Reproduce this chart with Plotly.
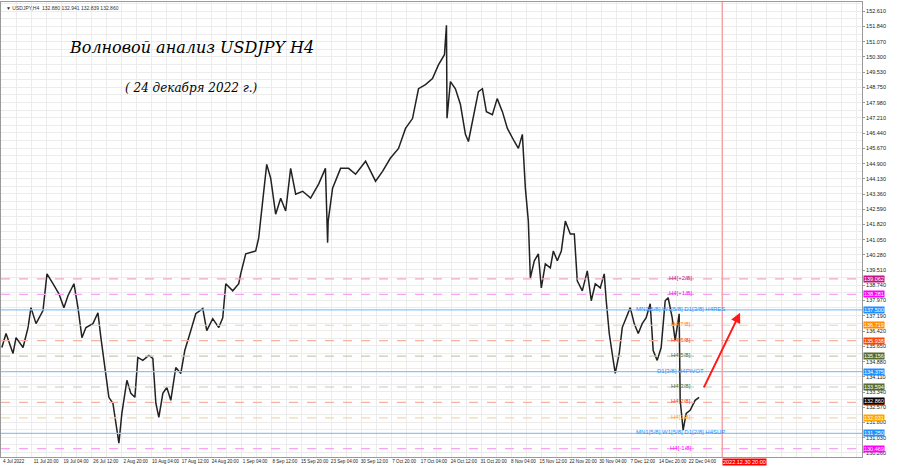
import plotly.graph_objects as go

# trading-day index (0 = 4 Jul 2022) and price path
days = [0,0.75,2.0,2.54,3.79,4.68,5.21,6.11,7.36,8.07,9.14,10.21,11.1,11.82,12.89,13.61,14.32,15.04,16.29,17.18,
        17.71,18.43,19.14,19.86,20.57,20.93,21.46,22.36,23.07,23.79,24.32,25.21,26.29,27.0,27.54,28.07,28.79,29.5,30.21,31.1,
        32.0,32.71,33.79,34.68,35.93,36.64,37.71,38.79,39.5,40.04,41.29,42.36,42.71,43.61,45.39,45.93,46.64,47.36,48.07,48.96,
        49.86,50.75,51.64,52.54,53.79,55.21,56.64,57.86,58.25,58.35,59.14,60.57,62.0,63.25,65.04,66.82,68.07,69.46,70.93,72.18,
        73.43,74.5,75.75,77.0,78.07,79.14,79.5,79.6,80.21,81.1,82.0,82.89,83.43,84.14,85.21,85.93,86.64,87.71,88.57,89.5,
        90.39,91.64,92.36,93.07,93.61,94.14,94.5,95.21,95.93,96.46,97.18,98.07,98.61,99.32,100.04,100.75,101.64,102.36,102.89,103.79,
        104.68,105.39,106.11,107.0,107.71,108.07,108.61,109.32,109.68,110.39,110.93,111.64,112.36,113.07,113.79,114.5,115.21,115.93,116.46,117.18,
        117.89,118.61,119.14,119.86,120.39,121.11,121.29,121.82,122.36,123.07,123.96,124.68]
prices = [135.59,136.30,135.29,136.09,135.59,136.60,137.61,136.80,137.46,139.32,138.82,138.31,137.61,138.21,138.82,137.61,136.09,136.60,136.80,137.35,
          136.09,134.58,133.07,132.77,131.56,130.75,132.26,133.93,133.27,133.07,135.09,134.94,135.19,135.04,132.77,132.06,133.27,133.57,132.92,134.58,
          134.28,135.44,136.45,137.30,137.56,136.45,137.05,136.60,137.10,138.82,138.46,138.82,139.32,140.33,140.48,141.14,143.00,144.86,144.16,142.34,
          143.15,142.50,144.66,143.35,143.50,143.15,143.86,144.66,140.90,141.99,143.66,144.66,144.66,144.36,145.02,144.01,144.51,145.17,145.67,146.68,
          147.18,148.69,148.90,149.20,149.90,150.41,151.90,147.20,149.05,148.69,147.89,146.38,146.02,147.03,148.54,148.69,147.53,147.38,148.19,147.53,
          146.68,146.02,145.67,146.38,143.66,141.99,139.12,139.98,140.33,138.61,139.82,139.62,140.48,139.98,140.48,141.99,141.34,141.34,138.97,138.46,
          139.47,137.96,138.82,138.61,139.32,137.96,136.30,134.94,134.28,135.29,136.60,137.10,137.61,136.80,136.30,136.80,137.10,137.81,135.44,134.94,
          135.59,137.96,138.11,137.10,135.94,137.30,132.92,131.41,132.26,132.41,132.92,133.07]

tick_days = [0,5.83,11.17,16.5,21.83,27.17,32.5,37.83,43.17,48.5,53.83,59.17,64.5,69.83,75.17,80.5,85.83,91.17,96.5,101.83,107.17,112.5,117.83,123.17]
tick_text = ["4 Jul 2022","11 Jul 20:00","19 Jul 04:00","26 Jul 12:00","2 Aug 20:00","10 Aug 04:00","17 Aug 12:00","24 Aug 20:00",
             "1 Sep 04:00","8 Sep 12:00","15 Sep 20:00","23 Sep 04:00","30 Sep 12:00","7 Oct 20:00","17 Oct 04:00","24 Oct 12:00",
             "31 Oct 20:00","8 Nov 04:00","15 Nov 12:00","22 Nov 20:00","30 Nov 04:00","7 Dec 12:00","14 Dec 20:00","22 Dec 04:00"]
future_day = 128.83
future_text = "2022.12.30 20:00"

price_ticks = [152.610,151.840,151.070,150.300,149.530,148.750,147.980,147.210,146.440,145.670,144.900,144.130,143.360,142.590,
               141.820,141.050,140.280,139.510,138.740,137.970,137.190,136.420,135.650,134.880,134.110,133.340,132.570,131.800,131.030,130.260]

levels = [139.062,138.281,137.500,136.719,135.938,135.156,134.375,133.594,132.813,132.031,131.250,130.469]
level_names = ["H4[+2/8]","H4[+1/8]","MN1[5/8] W1[5/8] D1[3/8] H4RES","H4[7/8]","H4[6/8]","H4[5/8]","D1[3/8] H4PIVOT",
               "H4[3/8]","H4[2/8]","H4[1/8]","MN1[5/8] W1[5/8] D1[2/8] H4SUP","H4[-1/8]"]
level_colors = ["#c71585","#ff00ff","#1e90ff","#ff8c00","#ff4500","#556b2f","#1e90ff","#556b2f","#ff4500","#ffa500","#1e90ff","#ff00ff"]
line_colors = ["#f5a3c8","#f7a3f7","#8cc6f5","#f8cfa3","#f6b39e","#c9cbb5","#8cc6f5","#c9cbb5","#f6b39e","#f8d8a3","#8cc6f5","#f7a3f7"]
level_solid = [False,False,True,False,False,False,True,False,False,False,True,False]

last_price = 132.860
arrow_from = (125.4, 133.5)
arrow_to = (132.0, 137.35)

XR = [-0.15, 153.8]
YR = [130.05, 153.08]
FS = 5.5
FONT = "Liberation Sans"

fig = go.Figure()
fig.add_trace(go.Scatter(x=days, y=prices, mode="lines", line=dict(color="#222", width=1.5),
                         hoverinfo="skip", showlegend=False))
fig.add_trace(go.Scatter(x=[0], y=[YR[0]-5], xaxis="x2", yaxis="y2", mode="markers",
                         marker=dict(opacity=0), showlegend=False, hoverinfo="skip"))

shapes = []
for lv, c, solid in zip(levels, line_colors, level_solid):
    shapes.append(dict(type="line", xref="paper", x0=0, x1=1, yref="y", y0=lv, y1=lv,
                       line=dict(color=c, width=1.2, dash="solid" if solid else "dash")))
shapes.append(dict(type="line", xref="x", x0=future_day, x1=future_day, yref="paper", y0=0, y1=1,
                   line=dict(color="#f4a0a0", width=1.2)))
fig.update_layout(shapes=shapes)

ann = []
for lv, nm, c in zip(levels, level_names, level_colors):
    ann.append(dict(x=121.4, y=lv, xref="x", yref="y", text=nm, showarrow=False, yshift=1,
                    font=dict(size=6, color=c, family=FONT)))
    ann.append(dict(x=1.0, y=lv, xref="paper", yref="y", text=f"{lv:.3f}", showarrow=False, xanchor="left", xshift=1,
                    bgcolor=c, font=dict(size=FS, color="white", family=FONT), borderpad=0))
ann.append(dict(x=1.0, y=last_price, xref="paper", yref="y", text=f"{last_price:.3f}", showarrow=False, xanchor="left", xshift=1,
                bgcolor="black", font=dict(size=FS, color="white", family=FONT), borderpad=0))
ann.append(dict(x=future_day, y=0, xref="x", yref="paper", yanchor="top", xanchor="left", yshift=-1, text=future_text,
                showarrow=False, bgcolor="#ff0000", font=dict(size=FS, color="white", family=FONT), borderpad=0))
ann.append(dict(x=arrow_to[0], y=arrow_to[1], ax=arrow_from[0], ay=arrow_from[1], xref="x", yref="y", axref="x", ayref="y",
                showarrow=True, arrowhead=2, arrowsize=1, arrowwidth=2, arrowcolor="#ff1a1a", text=""))
ann.append(dict(x=0.221, y=0.925, xref="paper", yref="paper", xanchor="center", text="<i>Волновой анализ USDJPY H4</i>",
                showarrow=False, font=dict(size=16, color="black", family="DejaVu Serif")))
ann.append(dict(x=0.221, y=0.83, xref="paper", yref="paper", xanchor="center", text="<i>( 24 декабря 2022 г.)</i>",
                showarrow=False, font=dict(size=12, color="black", family="DejaVu Serif")))
ann.append(dict(x=0.003, y=0.998, xref="paper", yref="paper", xanchor="left", yanchor="top",
                text="▼ USDJPY,H4  132.880 132.941 132.839 132.860", showarrow=False,
                font=dict(size=5, color="#333", family=FONT)))
fig.update_layout(annotations=ann)

fig.update_layout(
    width=900, height=468, margin=dict(l=1, r=38, t=2, b=11, autoexpand=False),
    plot_bgcolor="white", paper_bgcolor="white",
    xaxis=dict(range=XR, tickmode="linear", tick0=0, dtick=2.68, showticklabels=False, showgrid=True, automargin=False,
               gridcolor="#ececec", gridwidth=1, zeroline=False, showline=True, linecolor="#999", mirror=True, ticks=""),
    xaxis2=dict(overlaying="x", matches="x", range=XR, tickmode="array", tickvals=[t + 2.1 for t in tick_days],
                ticktext=tick_text, side="bottom", showgrid=False, zeroline=False, ticks="", tickangle=0, automargin=False,
                ticklabelstandoff=0, tickfont=dict(size=4.6, color="#222", family=FONT)),
    yaxis=dict(range=YR, tickmode="linear", tick0=152.61, dtick=0.385, showticklabels=False, showgrid=True, automargin=False,
               gridcolor="#ececec", zeroline=False, showline=True, linecolor="#999", mirror=True, ticks=""),
    yaxis2=dict(overlaying="y", matches="y", range=YR, side="right", tickmode="array", tickvals=price_ticks, automargin=False,
                ticktext=[f"{p:.3f}" for p in price_ticks], showgrid=False, zeroline=False, ticks="outside",
                ticklen=2, tickcolor="#999", tickfont=dict(size=FS, color="#222", family=FONT)),
)
fig.write_html("out.html", config={"displayModeBar": False},
               post_script="document.body.style.margin='0';document.body.style.overflow='hidden';")
